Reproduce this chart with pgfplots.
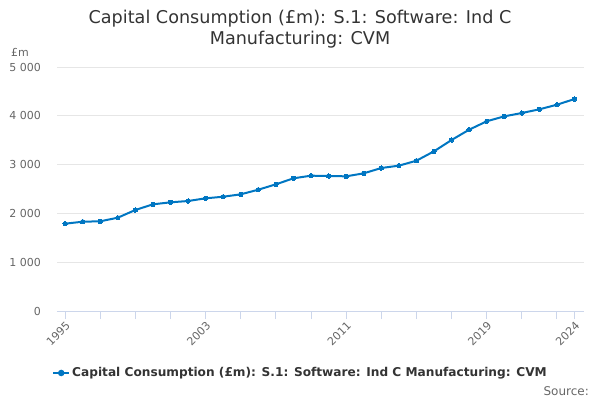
\documentclass[border=0pt]{standalone}
\usepackage{pgfplots}
\pgfplotsset{compat=1.18}
\usepackage{fontspec}
\setmainfont{DejaVu Sans}
\definecolor{lineblue}{RGB}{0,118,194}
\definecolor{gridgray}{RGB}{230,230,230}
\definecolor{axisblue}{RGB}{204,214,235}
\definecolor{labelgray}{RGB}{102,102,102}
\definecolor{titlegray}{RGB}{51,51,51}
\begin{document}
\begin{tikzpicture}[x=1pt,y=1pt]
\useasboundingbox (0,0) rectangle (600,400);
\node[font=\fontsize{17.6}{21}\selectfont, text=titlegray, anchor=center] at (300,381) {Capital Consumption (£m): S.1: Software: Ind C};
\node[font=\fontsize{17.6}{21}\selectfont, text=titlegray, anchor=center] at (300,360) {Manufacturing: CVM};
\node[font=\fontsize{11}{13}\selectfont, text=labelgray, anchor=west, inner sep=0pt] at (11,348) {£m};
\node[font=\fontsize{12}{14}\selectfont, text=labelgray, anchor=east, inner sep=0pt] at (589,9) {Source:};
\begin{axis}[
  at={(57pt,89pt)}, anchor=south west,
  scale only axis, width=527pt, height=244pt,
  xmin=1994.54, xmax=2024.54, ymin=0, ymax=5000,
  axis x line*=bottom, axis y line*=left,
  x axis line style={draw=axisblue, line width=1pt, -},
  y axis line style={draw=none},
  xtick={1995,2003,2011,2019,2024},
  minor xtick={1997,1999,2001,2005,2007,2009,2013,2015,2017,2021,2023},
  xticklabels={1995,2003,2011,2019,2024},
  x tick style={draw=axisblue, line width=1pt},
  major tick length=8pt, minor tick length=8pt,
  tick align=outside,
  ytick={0,1000,2000,3000,4000,5000},
  yticklabels={0,1 000,2 000,3 000,4 000,5 000},
  y tick style={draw=none},
  ymajorgrids, grid style={draw=gridgray, line width=1pt},
  ticklabel style={font=\fontsize{11}{13}\selectfont, text=labelgray},
  yticklabel style={anchor=east, inner sep=0pt, xshift=-8pt},
  xticklabel style={rotate=45, anchor=north east, inner sep=1pt},
  legend style={at={(0.462,-0.254)}, anchor=center, draw=none, fill=none,
    font=\bfseries\fontsize{12.15}{14}\selectfont, text=titlegray},
  legend image code/.code={\draw[lineblue, line width=2pt] (0pt,0pt) -- (16pt,0pt); \fill[lineblue] (8pt,0pt) circle (2.2pt);},
]
\addplot[lineblue, line width=2pt, mark=*, mark size=2.2pt, mark options={fill=lineblue, draw=lineblue, line width=0pt}] coordinates {
(1995,1789) (1996,1830) (1997,1838) (1998,1912) (1999,2070) (2000,2186)
(2001,2227) (2002,2254) (2003,2309) (2004,2342) (2005,2391) (2006,2486)
(2007,2596) (2008,2719) (2009,2773) (2010,2766) (2011,2760) (2012,2821)
(2013,2930) (2014,2978) (2015,3080) (2016,3272) (2017,3504) (2018,3715)
(2019,3887) (2020,3989) (2021,4057) (2022,4133) (2023,4227) (2024,4344)
};
\addlegendentry{Capital Consumption (£m): S.1: Software: Ind C Manufacturing: CVM}
\end{axis}
\end{tikzpicture}
\end{document}
